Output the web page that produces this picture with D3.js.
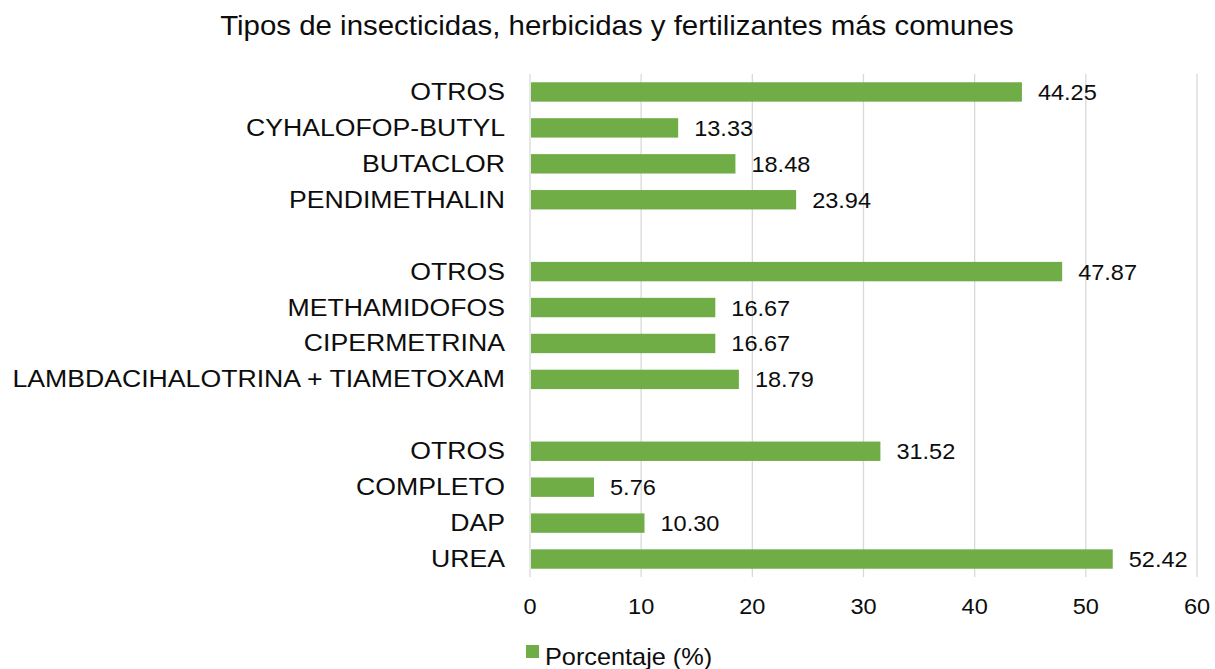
<!DOCTYPE html>
<html>
<head>
<meta charset="utf-8">
<script src="https://cdn.jsdelivr.net/npm/d3@7"></script>
<style>
  body { margin: 0; background: #fff; }
  text { font-family: "Liberation Sans", Arial, sans-serif; fill: #0d0d0d; }
</style>
</head>
<body>
<svg id="chart"></svg>
<script>
// rows from top to bottom, "" = blank spacer row between groups
const categories = [
  "OTROS", "CYHALOFOP-BUTYL", "BUTACLOR", "PENDIMETHALIN", "",
  "OTROS", "METHAMIDOFOS", "CIPERMETRINA", "LAMBDACIHALOTRINA + TIAMETOXAM", "",
  "OTROS", "COMPLETO", "DAP", "UREA"
];
const values = [
  44.25, 13.33, 18.48, 23.94, null,
  47.87, 16.67, 16.67, 18.79, null,
  31.52, 5.76, 10.30, 52.42
];
const xTicks = [0, 10, 20, 30, 40, 50, 60];
const seriesName = "Porcentaje (%)";
const title = "Tipos de insecticidas, herbicidas y fertilizantes más comunes";

const width = 1215, height = 669;
const green = "#70ad47";

// text in the reference is a bit wider than plain Arial, so stretch it a little
function label(sel, x, y, size, sx) {
  return sel.attr("transform", `translate(${x},${y}) scale(${sx},1)`)
    .style("font-size", size + "px");
}

const rows = categories.map((c, i) => ({ key: i, label: c, value: values[i] }));

const svg = d3.select("#chart")
  .attr("width", width)
  .attr("height", height);

const x = d3.scaleLinear().domain([0, 60]).range([530, 1197]);
const y = d3.scaleBand()
  .domain(rows.map(d => d.key))
  .range([74, 577])
  .paddingInner(0.46)
  .paddingOuter(0.23);

// gridlines
svg.append("g")
  .selectAll("line")
  .data(xTicks)
  .enter()
  .append("line")
  .attr("x1", d => x(d)).attr("x2", d => x(d))
  .attr("y1", 74).attr("y2", 577)
  .attr("stroke", "#d9d9d9")
  .attr("stroke-width", 1.3);

// bars
const bars = rows.filter(d => d.value != null);
svg.append("g")
  .selectAll("rect")
  .data(bars)
  .enter()
  .append("rect")
  .attr("x", x(0) + 1)
  .attr("y", d => y(d.key))
  .attr("width", d => x(d.value) - x(0) - 1)
  .attr("height", y.bandwidth())
  .attr("fill", green);

// value labels
svg.append("g")
  .selectAll("text")
  .data(bars)
  .enter()
  .append("text")
  .each(function(d) {
    label(d3.select(this), x(d.value) + 16, y(d.key) + y.bandwidth() / 2 + 8, 22, 1.07);
  })
  .text(d => d.value.toFixed(2));

// category labels
svg.append("g")
  .selectAll("text")
  .data(rows.filter(d => d.label))
  .enter()
  .append("text")
  .each(function(d) {
    label(d3.select(this), 505, y(d.key) + y.bandwidth() / 2 + 8, 24, 1.11);
  })
  .attr("text-anchor", "end")
  .text(d => d.label);

// x tick labels
svg.append("g")
  .selectAll("text")
  .data(xTicks)
  .enter()
  .append("text")
  .each(function(d) {
    label(d3.select(this), x(d), 614, 22, 1.07);
  })
  .attr("text-anchor", "middle")
  .text(d => d);

// title
label(svg.append("text"), 617, 35, 27, 1.09)
  .attr("text-anchor", "middle")
  .text(title);

// legend
const legend = svg.append("g");
legend.append("rect")
  .attr("x", 526).attr("y", 645)
  .attr("width", 13).attr("height", 13)
  .attr("fill", green);
label(legend.append("text"), 545, 665, 23, 1.1)
  .text(seriesName);
</script>
</body>
</html>
